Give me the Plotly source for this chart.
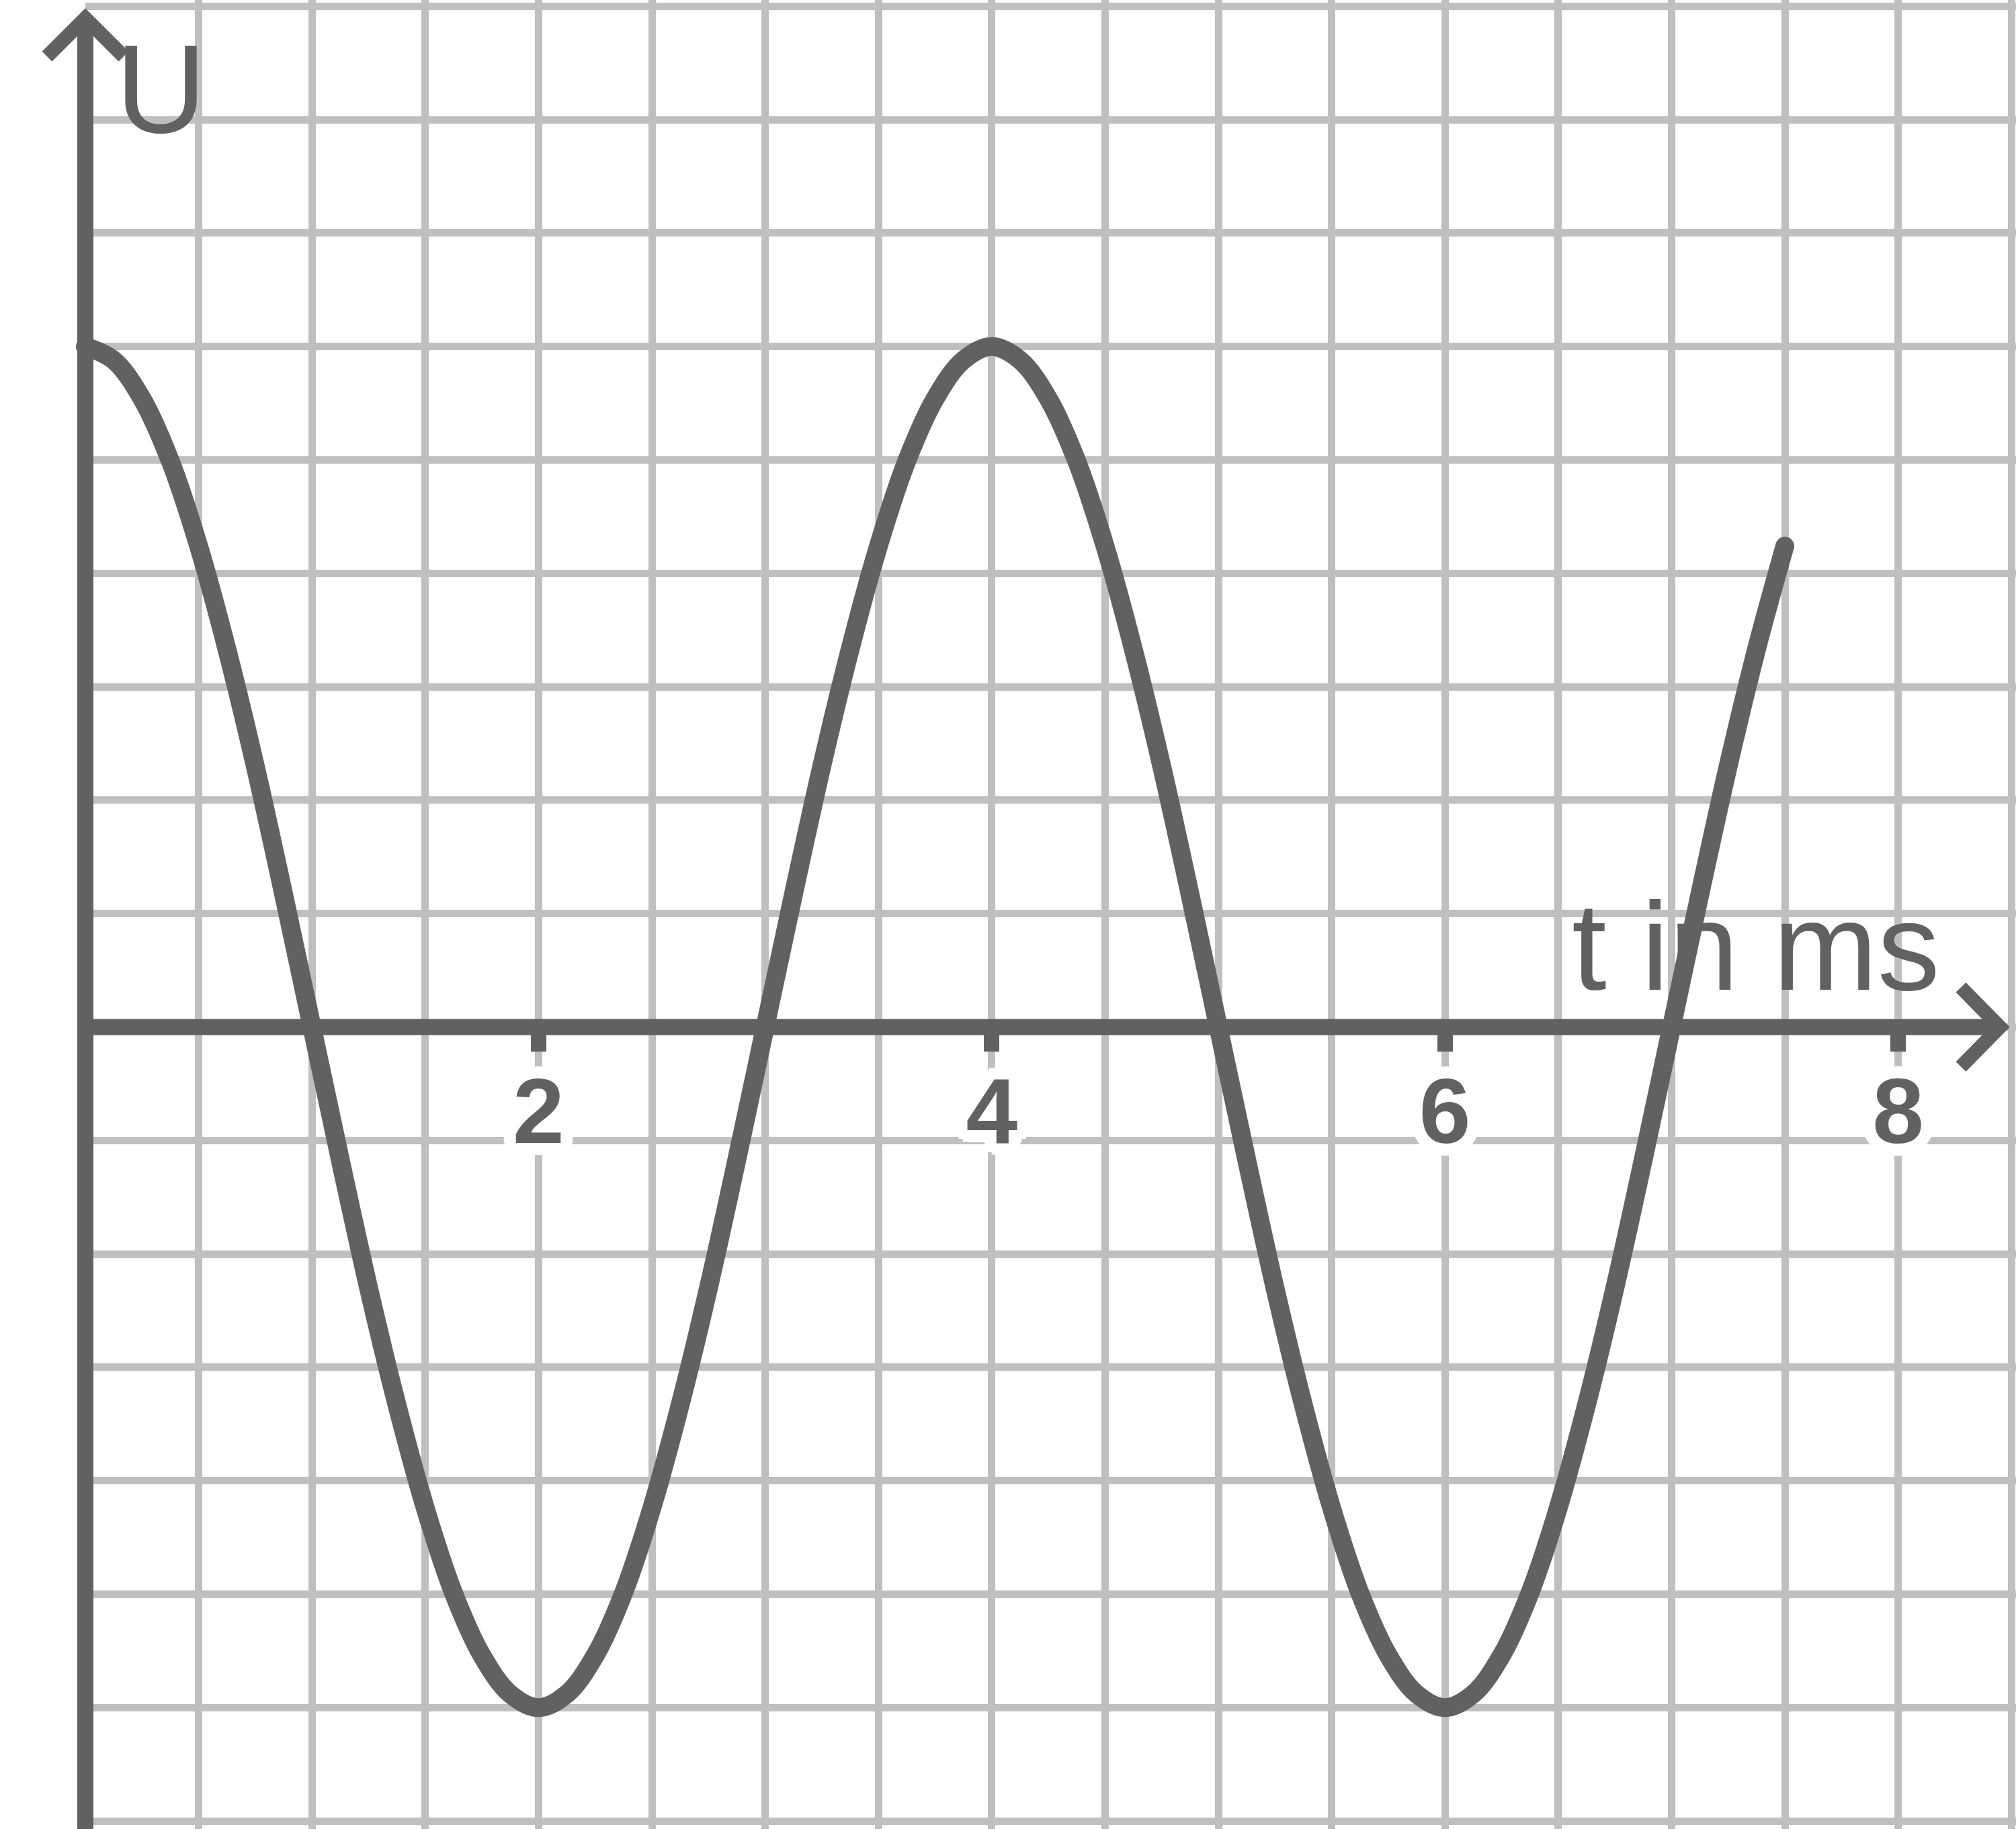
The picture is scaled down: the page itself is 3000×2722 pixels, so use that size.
import math
import plotly.graph_objects as go

# signal: t in ms, U in grid units
T_MS = [0.0, 0.125, 0.25, 0.375, 0.5, 0.625, 0.75, 0.875,
        1.0, 1.125, 1.25, 1.375, 1.5, 1.625, 1.75, 1.875,
        2.0, 2.125, 2.25, 2.375, 2.5, 2.625, 2.75, 2.875,
        3.0, 3.125, 3.25, 3.375, 3.5, 3.625, 3.75, 3.875,
        4.0, 4.125, 4.25, 4.375, 4.5, 4.625, 4.75, 4.875,
        5.0, 5.125, 5.25, 5.375, 5.5, 5.625, 5.75, 5.875,
        6.0, 6.125, 6.25, 6.375, 6.5, 6.625, 6.75, 6.875,
        7.0, 7.125, 7.25, 7.375, 7.5]
U_VALS = [6.0, 5.88, 5.54, 4.99, 4.24, 3.33, 2.3, 1.17,
          0.0, -1.17, -2.3, -3.33, -4.24, -4.99, -5.54, -5.88,
          -6.0, -5.88, -5.54, -4.99, -4.24, -3.33, -2.3, -1.17,
          0.0, 1.17, 2.3, 3.33, 4.24, 4.99, 5.54, 5.88,
          6.0, 5.88, 5.54, 4.99, 4.24, 3.33, 2.3, 1.17,
          0.0, -1.17, -2.3, -3.33, -4.24, -4.99, -5.54, -5.88,
          -6.0, -5.88, -5.54, -4.99, -4.24, -3.33, -2.3, -1.17,
          0.0, 1.17, 2.3, 3.33, 4.24]
TICK_VALS = [2, 4, 6, 8]
TICK_TEXT = ["2", "4", "6", "8"]
X_LABEL = "t in ms"
Y_LABEL = "U"

W, H = 3000, 2722
ML = 127
PX_MS = 337.2
PX_U = 168.8
Y0_PX = 1528.5
DARK = "#616161"
GRID = "#bfbfbf"

x_range = [0, (W - ML) / PX_MS]
y_range = [-(H - Y0_PX) / PX_U, Y0_PX / PX_U]


def px(p):
    return (p - ML) / (W - ML)


def py(p):
    return 1 - p / H


# white halo round the tick numbers
halo = []
for r in (5, 10, 15, 18):
    for k in range(16):
        a = 2 * math.pi * k / 16
        halo.append(f"{round(r * math.cos(a))}px {round(r * math.sin(a))}px 0 #ffffff")
halo = ", ".join(halo)

fig = go.Figure()
fig.add_trace(go.Scatter(
    x=T_MS, y=U_VALS, mode="lines",
    line=dict(color=DARK, width=28, shape="spline", smoothing=1.0, simplify=False),
    cliponaxis=False, hoverinfo="skip", showlegend=False,
))
fig.add_trace(go.Scatter(
    x=[T_MS[0], T_MS[-1]], y=[U_VALS[0], U_VALS[-1]], mode="markers",
    marker=dict(color=DARK, size=28, line=dict(width=0)),
    xaxis="x2", yaxis="y",
    cliponaxis=False, hoverinfo="skip", showlegend=False,
))

shapes = [
    # y axis
    dict(type="line", xref="paper", yref="paper", x0=0, x1=0, y0=py(H + 5), y1=py(30),
         line=dict(color=DARK, width=24)),
    # x axis
    dict(type="line", xref="paper", yref="y", x0=px(118), x1=px(2972), y0=0, y1=0,
         line=dict(color=DARK, width=24)),
    # arrow heads
    dict(type="path", xref="paper", yref="paper",
         path=f"M{px(70)},{py(84)} L{px(127)},{py(27)} L{px(184)},{py(84)}",
         line=dict(color=DARK, width=21)),
    dict(type="path", xref="paper", yref="paper",
         path=f"M{px(2918)},{py(Y0_PX - 59)} L{px(2976)},{py(Y0_PX)} L{px(2918)},{py(Y0_PX + 59)}",
         line=dict(color=DARK, width=21)),
]

annotations = [
    dict(text=Y_LABEL, xref="paper", yref="paper", x=px(170), y=py(26),
         xanchor="left", yanchor="top", showarrow=False,
         font=dict(family="Liberation Sans, Arial, sans-serif", size=187, color=DARK)),
    dict(text=X_LABEL, xref="paper", yref="paper", x=px(2337), y=py(1514),
         xanchor="left", yanchor="bottom", showarrow=False,
         font=dict(family="Liberation Sans, Arial, sans-serif", size=186, color=DARK)),
]

fig.update_layout(
    width=W, height=H, autosize=False,
    margin=dict(l=ML, r=0, t=0, b=0, pad=0),
    paper_bgcolor="white", plot_bgcolor="white",
    showlegend=False,
    xaxis=dict(range=x_range, tick0=0, dtick=0.5, showgrid=True,
               gridcolor=GRID, gridwidth=11, zeroline=False, showline=False,
               showticklabels=False, ticks=""),
    xaxis2=dict(range=x_range, overlaying="x", anchor="free",
                position=(0 - y_range[0]) / (y_range[1] - y_range[0]), side="bottom",
                showgrid=False, zeroline=False, showline=False,
                tickmode="array", tickvals=TICK_VALS, ticktext=TICK_TEXT,
                ticks="outside", ticklen=35, tickwidth=23, tickcolor=DARK,
                ticklabelstandoff=-29,
                tickfont=dict(family="Liberation Sans, Arial, sans-serif", size=138,
                              color=DARK, weight="bold", shadow=halo)),
    yaxis=dict(range=y_range, tick0=0, dtick=1, showgrid=True,
               gridcolor=GRID, gridwidth=11, zeroline=False, showline=False,
               showticklabels=False, ticks=""),
    shapes=shapes,
    annotations=annotations,
)

# page body has an 8px default margin; drop it so the figure fills the window
fig.write_html("out.html", config={"displayModeBar": False},
               post_script="document.body.style.margin='0';")
